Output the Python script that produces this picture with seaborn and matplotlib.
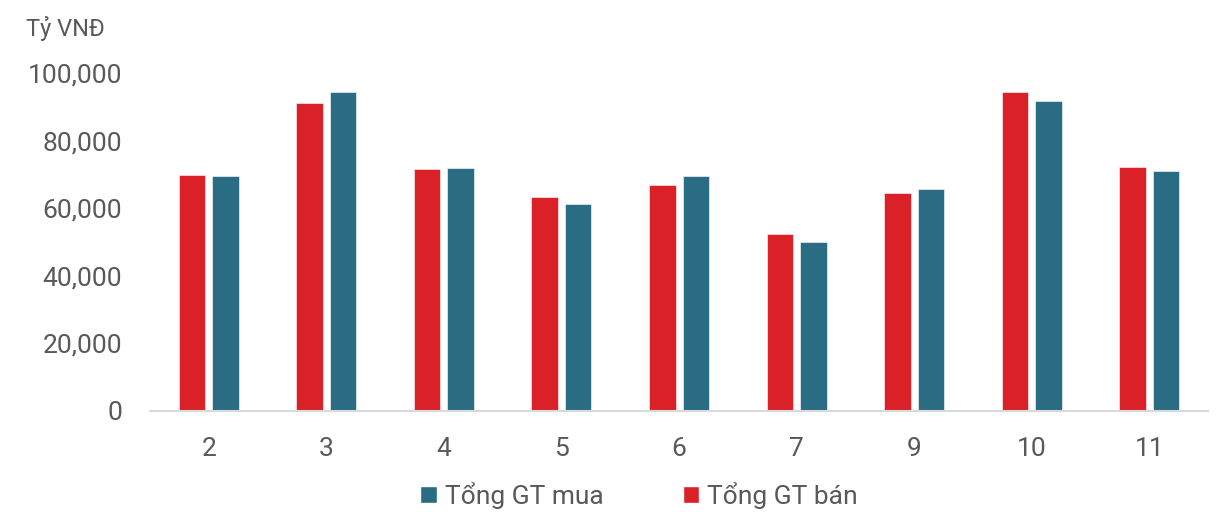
import pandas as pd
import matplotlib.pyplot as plt
import seaborn as sns
from matplotlib.patches import Patch
from matplotlib.ticker import FuncFormatter

# Giá trị (tỷ VNĐ)
thang = ['2', '3', '4', '5', '6', '7', '9', '10', '11']
gt_ban = [69800, 91250, 71650, 63350, 66800, 52350, 64450, 94300, 72150]
gt_mua = [69400, 94400, 71850, 61200, 69500, 49900, 65800, 91750, 70950]

RED = '#DA2128'
TEAL = '#2A6C83'
GREY = '#595959'

df = pd.DataFrame({
    'Tháng': thang * 2,
    'Giá trị': gt_ban + gt_mua,
    'Loại': ['Tổng GT bán'] * len(thang) + ['Tổng GT mua'] * len(thang),
})

sns.set_style('white')
plt.rcParams['font.family'] = ['Roboto', 'DejaVu Sans']

fig = plt.figure(figsize=(12.17, 5.12), dpi=100)
ax = fig.add_axes([0.1233, 0.198, 0.8693, 0.659])

sns.barplot(data=df, x='Tháng', y='Giá trị', hue='Loại',
            hue_order=['Tổng GT bán', 'Tổng GT mua'],
            palette=[RED, TEAL], saturation=1, width=0.57, gap=0.21,
            edgecolor='white', linewidth=0.4, legend=False, ax=ax)

ax.set_xlim(-0.5, len(thang) - 0.5)
ax.set_ylim(0, 100000)
ax.set_yticks(range(0, 100001, 20000))
ax.yaxis.set_major_formatter(FuncFormatter(lambda v, p: f'{int(v):,}'))
ax.set_xlabel('')
ax.set_ylabel('')

for s in ['top', 'right', 'left']:
    ax.spines[s].set_visible(False)
ax.spines['bottom'].set_color('#D9D9D9')
ax.spines['bottom'].set_linewidth(1.5)

ax.tick_params(axis='y', length=0, pad=20, labelsize=19, labelcolor=GREY)
ax.tick_params(axis='x', length=0, pad=19, labelsize=19, labelcolor=GREY)

fig.text(0.021, 0.945, 'Tỷ VNĐ', fontsize=17, color=GREY, va='center')

handles = [Patch(facecolor=TEAL, label='Tổng GT mua'),
           Patch(facecolor=RED, label='Tổng GT bán')]
fig.legend(handles=handles, loc='center', bbox_to_anchor=(0.525, 0.033),
           ncol=2, frameon=False, fontsize=19, labelcolor=GREY,
           handlelength=0.62, handleheight=0.62, handletextpad=0.3,
           columnspacing=3.0)

fig.savefig('out.png', dpi=100)
